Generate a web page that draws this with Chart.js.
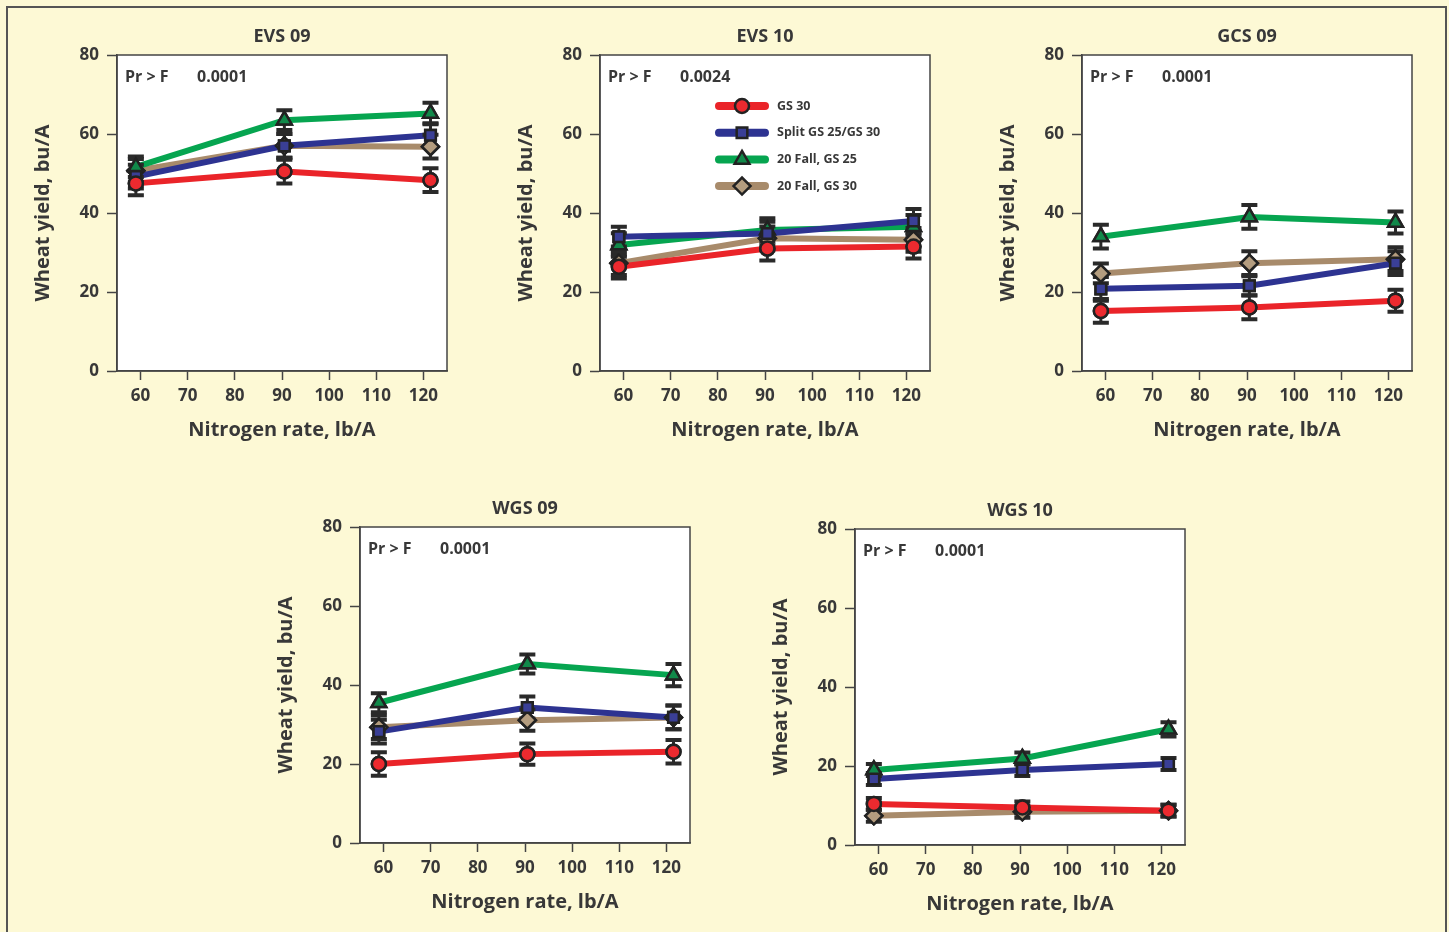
<!DOCTYPE html>
<html>
<head>
<meta charset="UTF-8" />
<script src="https://cdn.jsdelivr.net/npm/chart.js@4"></script>
<style>
  body {
    margin: 0;
    width: 1449px;
    height: 932px;
    overflow: hidden;
    background: #fdf9d5;
    position: relative;
  }
  .frame {
    position: absolute;
    left: 6px;
    top: 6px;
    width: 1437px;
    height: 960px;
    border: 2px solid #555;
    border-bottom: none;
  }
  .panel {
    position: absolute;
  }
</style>
</head>
<body>
<div class="frame"></div>
<canvas class="panel" id="c0" width="460" height="450" style="left:17px;top:5px"></canvas>
<canvas class="panel" id="c1" width="460" height="450" style="left:500px;top:5px"></canvas>
<canvas class="panel" id="c2" width="460" height="450" style="left:982px;top:5px"></canvas>
<canvas class="panel" id="c3" width="460" height="450" style="left:260px;top:477px"></canvas>
<canvas class="panel" id="c4" width="460" height="450" style="left:755px;top:479px"></canvas>
<script>
  // Nitrogen rates (points are plotted a little off the tick marks in the original)
  const nRates = [59, 90.5, 121.5];
  const xTicks = [60, 70, 80, 90, 100, 110, 120];
  const yTicks = [0, 20, 40, 60, 80];

  const panelTitles = ['EVS 09', 'EVS 10', 'GCS 09', 'WGS 09', 'WGS 10'];
  const prF = ['0.0001', '0.0024', '0.0001', '0.0001', '0.0001'];
  const seriesNames = ['GS 30', 'Split GS 25/GS 30', '20 Fall, GS 25', '20 Fall, GS 30'];

  // wheat yield, bu/A - one row per site-year, in panelTitles order
  const gs30 = [[47.5, 50.5, 48.3], [26.4, 31.0, 31.5], [15.2, 16.1, 17.8], [20.0, 22.5, 23.1], [10.4, 9.5, 8.7]];
  const splitGs = [[49.2, 57.0, 59.7], [34.0, 34.8, 38.0], [20.8, 21.6, 27.3], [28.2, 34.3, 31.8], [16.7, 19.0, 20.5]];
  const fall25 = [[51.7, 63.5, 65.2], [31.9, 35.7, 36.5], [34.0, 39.0, 37.6], [35.5, 45.3, 42.5], [19.0, 21.9, 29.3]];
  const fall30 = [[50.7, 57.0, 56.8], [27.3, 33.6, 33.2], [24.7, 27.3, 28.3], [29.3, 31.1, 31.8], [7.4, 8.4, 8.7]];

  // error bar half-widths, bu/A
  const gs30Err = [[3.0, 3.0, 3.0], [3.0, 3.0, 3.0], [3.0, 3.0, 2.8], [3.0, 2.7, 3.0], [1.5, 1.5, 1.5]];
  const splitErr = [[3.0, 3.0, 3.0], [2.5, 3.0, 3.0], [3.0, 2.4, 3.0], [3.0, 2.8, 3.0], [1.5, 1.5, 1.5]];
  const fall25Err = [[2.6, 2.5, 2.7], [3.0, 3.0, 3.0], [3.0, 3.0, 2.8], [2.4, 2.4, 2.8], [1.5, 1.5, 1.8]];
  const fall30Err = [[3.0, 3.0, 3.0], [3.0, 3.0, 3.0], [2.5, 3.0, 3.0], [3.0, 2.7, 3.0], [1.5, 1.5, 1.5]];

  const allValues = [gs30, splitGs, fall25, fall30];
  const allErrors = [gs30Err, splitErr, fall25Err, fall30Err];

  const looks = [
    { line: '#ea2429', fill: '#ec2a2f', shape: 'circle', r: 7 },
    { line: '#2d3391', fill: '#3a3f96', shape: 'rect', r: 7.5 },
    { line: '#06a550', fill: '#11894a', shape: 'triangle', r: 8.5 },
    { line: '#a88b6b', fill: '#b49d7f', shape: 'rectRot', r: 8.5 },
  ];

  const FONT = '"Open Sans", "Noto Sans", sans-serif';
  const INK = '#383838';
  const AXIS = '#444';

  const errorBars = {
    id: 'errorBars',
    afterDatasetsDraw(chart) {
      const { ctx } = chart;
      const ys = chart.scales.y;
      ctx.save();
      ctx.strokeStyle = '#2a2a2a';
      chart.data.datasets.forEach((ds, i) => {
        chart.getDatasetMeta(i).data.forEach((pt, j) => {
          const v = ds.data[j].y;
          const top = ys.getPixelForValue(v + ds.err[j]);
          const bot = ys.getPixelForValue(v - ds.err[j]);
          ctx.lineWidth = 3;
          ctx.beginPath();
          ctx.moveTo(pt.x, top);
          ctx.lineTo(pt.x, bot);
          ctx.stroke();
          ctx.lineWidth = 4;
          ctx.beginPath();
          ctx.moveTo(pt.x - 8, top);
          ctx.lineTo(pt.x + 8, top);
          ctx.moveTo(pt.x - 8, bot);
          ctx.lineTo(pt.x + 8, bot);
          ctx.stroke();
        });
      });
      // put markers back over the bars
      for (let i = chart.data.datasets.length - 1; i >= 0; i--) {
        chart.getDatasetMeta(i).data.forEach(p => p.draw(ctx, chart.chartArea));
      }
      ctx.restore();
    }
  };

  const panelText = {
    id: 'panelText',
    beforeDraw(chart) {
      const { ctx, chartArea: a } = chart;
      ctx.save();
      ctx.fillStyle = '#fff';
      ctx.fillRect(a.left, a.top, a.right - a.left, a.bottom - a.top);
      ctx.restore();
    },
    afterDraw(chart, args, opts) {
      const { ctx, chartArea: a } = chart;
      ctx.save();
      ctx.strokeStyle = AXIS;
      ctx.lineWidth = 1.5;
      ctx.strokeRect(a.left, a.top, a.right - a.left, a.bottom - a.top);

      ctx.fillStyle = INK;
      ctx.textBaseline = 'middle';
      ctx.textAlign = 'center';
      ctx.font = 'bold 18px ' + FONT;
      ctx.fillText(opts.title, (a.left + a.right) / 2, a.top - 18);

      ctx.textAlign = 'left';
      ctx.font = 'bold 16px ' + FONT;
      ctx.fillText('Pr > F', a.left + 8, a.top + 22);
      ctx.fillText(opts.p, a.left + 80, a.top + 22);

      if (opts.legend) {
        ctx.font = 'bold 12.5px ' + FONT;
        chart.data.datasets.forEach((ds, i) => {
          const y = a.top + 51 + i * 26.7;
          ctx.strokeStyle = ds.borderColor;
          ctx.lineWidth = 8;
          ctx.lineCap = 'round';
          ctx.beginPath();
          ctx.moveTo(a.left + 119, y);
          ctx.lineTo(a.left + 165, y);
          ctx.stroke();
          ctx.fillStyle = ds.pointBackgroundColor;
          ctx.strokeStyle = '#222';
          ctx.lineWidth = 2.5;
          Chart.helpers.drawPoint(ctx, {
            pointStyle: ds.pointStyle, radius: ds.pointRadius, borderWidth: 2.5, rotation: 0
          }, a.left + 142, y);
          ctx.fillStyle = INK;
          ctx.fillText(seriesNames[i], a.left + 177, y);
        });
      }
      ctx.restore();
    }
  };

  panelTitles.forEach((title, k) => {
    const datasets = seriesNames.map((name, i) => ({
      label: name,
      data: nRates.map((x, j) => ({ x: x, y: allValues[i][k][j] })),
      err: allErrors[i][k],
      borderColor: looks[i].line,
      borderWidth: 6,
      pointStyle: looks[i].shape,
      pointRadius: looks[i].r,
      pointBackgroundColor: looks[i].fill,
      pointBorderColor: '#222',
      pointBorderWidth: 2.5,
      tension: 0,
    }));

    new Chart(document.getElementById('c' + k), {
      type: 'line',
      data: { datasets: datasets },
      options: {
        responsive: false,
        animation: false,
        layout: { padding: { top: 50, right: 30, left: 0, bottom: 0 } },
        scales: {
          x: {
            type: 'linear',
            min: 55,
            max: 125,
            afterBuildTicks: s => { s.ticks = xTicks.map(v => ({ value: v })); },
            afterFit: s => { s.height = 84; },
            grid: { drawOnChartArea: false, tickLength: 9, tickColor: AXIS, tickWidth: 1.5 },
            border: { color: AXIS, width: 1.5 },
            ticks: { color: INK, font: { family: FONT, size: 17, weight: 'bold' }, padding: 6, maxRotation: 0, autoSkip: false },
            title: {
              display: true, text: 'Nitrogen rate, lb/A', color: INK,
              font: { family: FONT, size: 20, weight: 'bold' }, padding: { top: 4, bottom: 13 }
            }
          },
          y: {
            min: 0,
            max: 80,
            afterBuildTicks: s => { s.ticks = yTicks.map(v => ({ value: v })); },
            afterFit: s => { s.width = 100; },
            grid: { drawOnChartArea: false, tickLength: 10, tickColor: AXIS, tickWidth: 1.5 },
            border: { color: AXIS, width: 1.5 },
            ticks: { color: INK, font: { family: FONT, size: 17, weight: 'bold' }, padding: 8 },
            title: {
              display: true, text: 'Wheat yield, bu/A', color: INK,
              font: { family: FONT, size: 20, weight: 'bold' }, padding: { top: 14, bottom: 0 }
            }
          }
        },
        plugins: {
          legend: { display: false },
          tooltip: { enabled: false },
          panelText: { title: title, p: prF[k], legend: k === 1 }
        }
      },
      plugins: [errorBars, panelText]
    });
  });
</script>
</body>
</html>
